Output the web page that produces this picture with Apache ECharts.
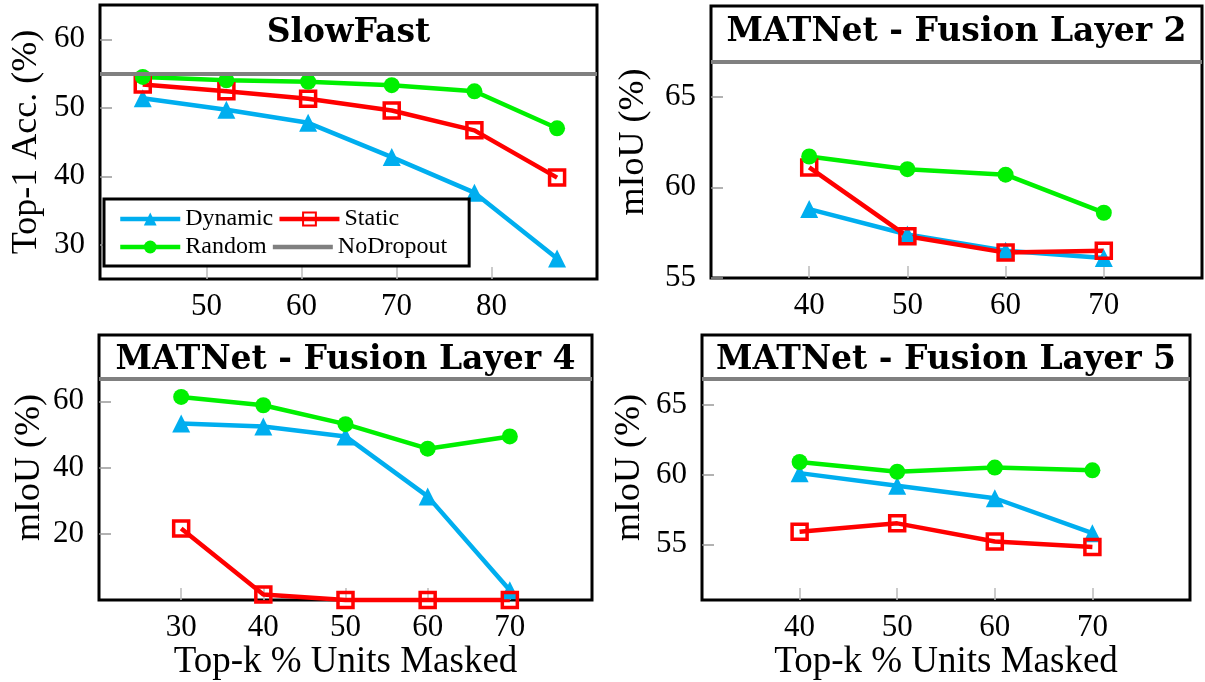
<!DOCTYPE html>
<html>
<head>
<meta charset="utf-8">
<script src="https://cdn.jsdelivr.net/npm/echarts@6/dist/echarts.min.js"></script>
<style>
  html, body { margin: 0; padding: 0; background: #fff; }
  #main { width: 1205px; height: 682px; }
</style>
</head>
<body>
<div id="main"></div>
<script>
// SlowFast panel
const slowfastX = [43.3, 52.1, 60.7, 69.5, 78.2, 86.9];
const slowfastDynamic = [51.4, 49.7, 47.8, 42.8, 37.6, 28.0];
const slowfastStatic = [53.4, 52.4, 51.3, 49.6, 46.7, 39.8];
const slowfastRandom = [54.5, 54.0, 53.8, 53.3, 52.4, 47.0];
const slowfastNoDropout = 55.0;

// MATNet panels
const layer2X = [40, 50, 60, 70];
const layer2Dynamic = [58.8, 57.4, 56.5, 56.1];
const layer2Static = [61.1, 57.3, 56.4, 56.5];
const layer2Random = [61.7, 61.0, 60.7, 58.6];

const layer4X = [30, 40, 50, 60, 70];
const layer4Dynamic = [53.3, 52.4, 49.4, 31.3, 3.0];
const layer4Static = [21.6, 1.7, 0.0, 0.0, 0.0];
const layer4Random = [61.3, 58.8, 53.1, 45.7, 49.4];

const layer5X = [40, 50, 60, 70];
const layer5Dynamic = [60.1, 59.2, 58.3, 55.8];
const layer5Static = [55.9, 56.5, 55.2, 54.8];
const layer5Random = [60.9, 60.2, 60.5, 60.3];

const matnetNoDropout = 66.9;

// tick labels
const slowfastXTicks = [50, 60, 70, 80];
const slowfastYTicks = [30, 40, 50, 60];
const layer2XTicks = [40, 50, 60, 70];
const layer2YTicks = [55, 60, 65];
const layer4XTicks = [30, 40, 50, 60, 70];
const layer4YTicks = [20, 40, 60];
const layer5XTicks = [40, 50, 60, 70];
const layer5YTicks = [55, 60, 65];

const titles = ['SlowFast', 'MATNet - Fusion Layer 2', 'MATNet - Fusion Layer 4', 'MATNet - Fusion Layer 5'];

const BLUE = '#00AEEF', RED = '#FF0000', GREEN = '#00F000', GRAY = '#808080';
const SERIF = 'Liberation Serif';

const panels = [
  { grid: { left: 100, top: 5, width: 497, height: 274 }, x: [38.8, 91.1], y: [25, 65],
    xt: slowfastXTicks, yt: slowfastYTicks, xs: slowfastX, tdy: 12,
    d: slowfastDynamic, s: slowfastStatic, r: slowfastRandom, nd: slowfastNoDropout,
    yname: 'Top-1 Acc. (%)', ygap: 55, xname: '' },
  { grid: { left: 711, top: 6, width: 491, height: 272 }, x: [30, 80], y: [55, 70],
    xt: layer2XTicks, yt: layer2YTicks, xs: layer2X, tdy: 10,
    d: layer2Dynamic, s: layer2Static, r: layer2Random, nd: matnetNoDropout,
    yname: 'mIoU (%)', ygap: 59, xname: '' },
  { grid: { left: 99, top: 335, width: 493, height: 270 }, x: [20, 80], y: [0, 80],
    xt: layer4XTicks, yt: layer4YTicks, xs: layer4X, tdy: 9,
    d: layer4Dynamic, s: layer4Static, r: layer4Random, nd: matnetNoDropout,
    yname: 'mIoU (%)', ygap: 51, xname: 'Top-k % Units Masked' },
  { grid: { left: 702, top: 335, width: 488, height: 270 }, x: [30, 80], y: [51, 70],
    xt: layer5XTicks, yt: layer5YTicks, xs: layer5X, tdy: 9,
    d: layer5Dynamic, s: layer5Static, r: layer5Random, nd: matnetNoDropout,
    yname: 'mIoU (%)', ygap: 54, xname: 'Top-k % Units Masked' }
];

const pairs = (xs, ys) => xs.map((x, i) => [x, ys[i]]);

const grids = [], xAxes = [], yAxes = [], series = [], titleOpts = [];
panels.forEach((p, i) => {
  grids.push(Object.assign({ show: true, borderColor: '#000', borderWidth: 3, backgroundColor: 'transparent' }, p.grid));
  titleOpts.push({
    text: titles[i], left: p.grid.left + p.grid.width / 2, top: p.grid.top + p.tdy, textAlign: 'center', padding: 0,
    textStyle: { fontFamily: 'DejaVu Serif', fontWeight: 'bold', fontSize: 33, color: '#000' }
  });
  xAxes.push({
    type: 'value', gridIndex: i, min: p.x[0], max: p.x[1],
    axisLine: { show: false }, splitLine: { show: false },
    axisTick: { inside: true, length: 12, customValues: p.xt, lineStyle: { color: '#bbb', width: 1.5 } },
    axisLabel: { customValues: p.xt, margin: 12, fontFamily: SERIF, fontSize: 31, color: '#000' },
    name: p.xname, nameLocation: 'middle', nameGap: 36,
    nameTextStyle: { fontFamily: SERIF, fontSize: 37, color: '#000' }
  });
  yAxes.push({
    type: 'value', gridIndex: i, min: p.y[0], max: p.y[1],
    axisLine: { show: false }, splitLine: { show: false },
    axisTick: { inside: true, length: 12, customValues: p.yt, lineStyle: { color: '#999', width: 1.5 } },
    axisLabel: { customValues: p.yt, margin: 15, fontFamily: SERIF, fontSize: 31, color: '#000' },
    name: p.yname, nameLocation: 'middle', nameRotate: 90, nameGap: p.ygap,
    nameTextStyle: { fontFamily: SERIF, fontSize: 36, color: '#000' }
  });
  const common = { type: 'line', xAxisIndex: i, yAxisIndex: i, clip: false, animation: false, z: 3 };
  series.push(Object.assign({}, common, {
    name: 'Dynamic', data: pairs(p.xs, p.d), symbol: 'triangle', symbolSize: 18,
    itemStyle: { color: BLUE }, lineStyle: { color: BLUE, width: 4.5 }
  }));
  series.push(Object.assign({}, common, {
    name: 'Static', data: pairs(p.xs, p.s), symbol: 'rect', symbolSize: 15,
    itemStyle: { color: 'rgba(255,255,255,0)', borderColor: RED, borderWidth: 3.5 },
    lineStyle: { color: RED, width: 4.5 }
  }));
  series.push(Object.assign({}, common, {
    name: 'Random', data: pairs(p.xs, p.r), symbol: 'circle', symbolSize: 16,
    itemStyle: { color: GREEN }, lineStyle: { color: GREEN, width: 4.5 }
  }));
  series.push(Object.assign({}, common, {
    name: 'NoDropout', data: [], symbol: 'none', z: 2,
    itemStyle: { color: GRAY }, lineStyle: { color: GRAY, width: 4.5 },
    markLine: {
      silent: true, symbol: 'none', animation: false, label: { show: false },
      lineStyle: { color: GRAY, width: 4, type: 'solid' },
      data: [{ yAxis: p.nd }]
    }
  }));
});

const option = {
  backgroundColor: '#fff',
  animation: false,
  title: titleOpts,
  grid: grids,
  xAxis: xAxes,
  yAxis: yAxes,
  legend: {
    left: 104, top: 199, width: 345, orient: 'horizontal',
    padding: [8, 22, 7, 14], itemWidth: 60, itemHeight: 16, itemGap: 4,
    backgroundColor: '#fff', borderColor: '#000', borderWidth: 3, borderRadius: 0,
    lineStyle: { width: 4.5 },
    data: ['Dynamic', 'Static', 'Random', { name: 'NoDropout', itemStyle: { opacity: 0 } }],
    formatter: '{a|{name}}',
    textStyle: {
      color: '#000', fontFamily: SERIF, fontSize: 24,
      rich: { a: { fontFamily: SERIF, fontSize: 24, color: '#000', width: 88 } }
    },
    selectedMode: false
  },
  series: series
};

const chart = echarts.init(document.getElementById('main'));
chart.setOption(option);
window.addEventListener('resize', () => chart.resize());
</script>
</body>
</html>
